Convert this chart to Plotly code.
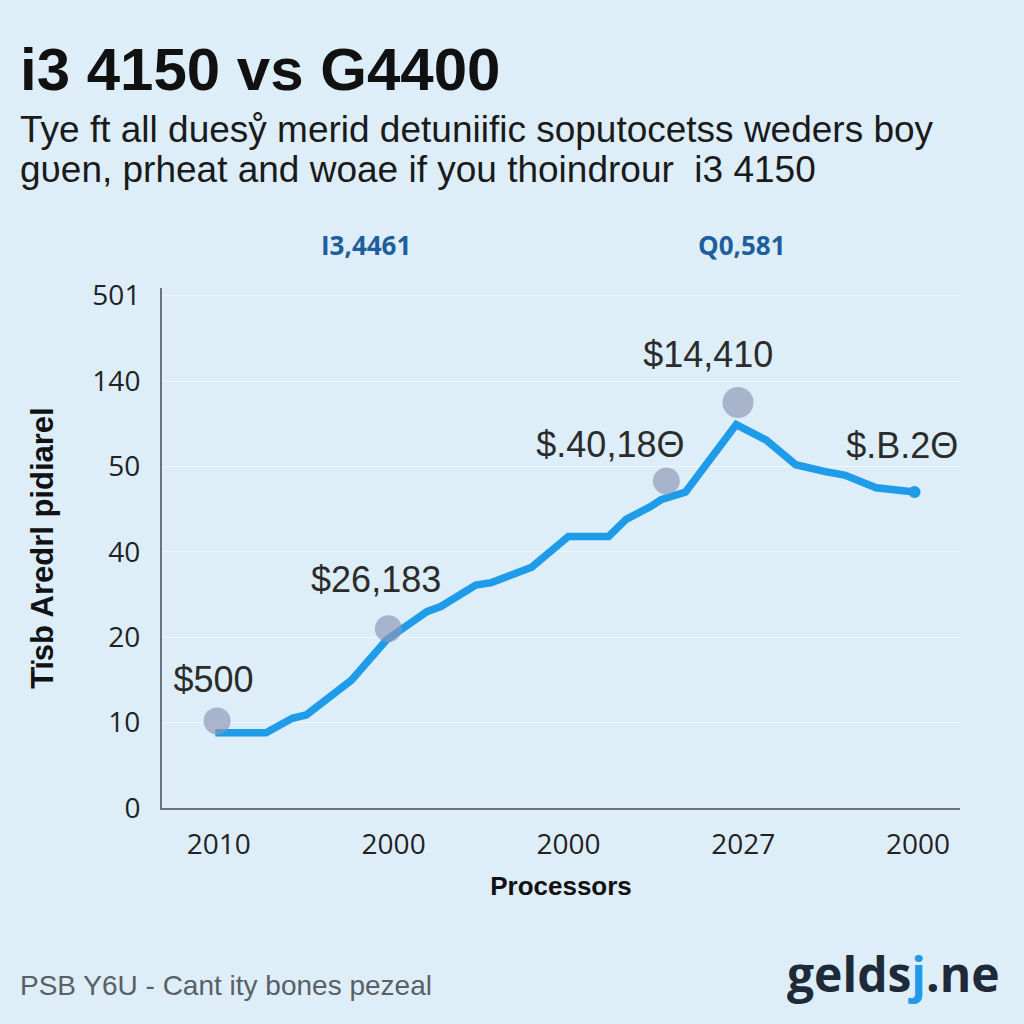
import plotly.graph_objects as go

# ---- data ----
x_tick_labels = ["2010", "2000", "2000", "2027", "2000"]
y_tick_labels = ["0", "10", "20", "40", "50", "140", "501"]

line_x = [-0.02, 0.27, 0.42, 0.50, 0.76, 0.96, 1.19, 1.27, 1.47, 1.56, 1.79, 2.00, 2.23, 2.33,
          2.47, 2.53, 2.67, 2.96, 3.13, 3.30, 3.47, 3.58, 3.76, 3.98]
line_y = [0.88, 0.88, 1.05, 1.09, 1.50, 1.97, 2.30, 2.36, 2.61, 2.64, 2.82, 3.18, 3.18, 3.38,
          3.53, 3.61, 3.70, 4.49, 4.31, 4.02, 3.94, 3.90, 3.75, 3.70]

marker_x = [-0.01, 0.97, 2.56, 2.97]
marker_y = [1.02, 2.10, 3.83, 4.75]

label_text = ["$500", "$26,183", "$.40,18Θ", "$14,410", "$.B.2Θ"]
label_x = [-0.03, 0.90, 2.24, 2.80, 3.91]
label_y = [1.46, 2.64, 4.22, 5.27, 4.20]

top_text = ["I3,4461", "Q0,581"]
top_x_px = [366, 742]

BG = "#ddeef9"
LINE = "#1e9be9"
NARROW = "Liberation Sans Narrow, Arial Narrow, sans-serif"
SANS = "Open Sans, sans-serif"

fig = go.Figure()

fig.add_trace(go.Scatter(
    x=line_x, y=line_y, mode="lines",
    line=dict(color=LINE, width=7.5, shape="linear"),
    hoverinfo="skip", showlegend=False,
))
fig.add_trace(go.Scatter(
    x=[line_x[-1]], y=[line_y[-1]], mode="markers",
    marker=dict(color=LINE, size=12),
    hoverinfo="skip", showlegend=False,
))
fig.add_trace(go.Scatter(
    x=marker_x, y=marker_y, mode="markers",
    marker=dict(color="rgba(140,152,180,0.95)", size=[27, 27, 27, 31], line=dict(width=0)),
    hoverinfo="skip", showlegend=False,
))
fig.add_trace(go.Scatter(
    x=label_x, y=label_y, mode="text", text=label_text,
    textfont=dict(family=NARROW, size=36, color="#2b2b2b"),
    cliponaxis=False, hoverinfo="skip", showlegend=False,
))

# pixel-positioned annotations (converted to paper coords below)
W, H = 1024, 1024
ml, mr, mt, mb = 162, 64, 288, 216
pw, ph = W - ml - mr, H - mt - mb

def px_ann(x, y, text, font, xanchor="left"):
    fig.add_annotation(x=(x - ml) / pw, y=1 - (y - mt) / ph, xref="paper", yref="paper",
                       text=text, showarrow=False, xanchor=xanchor, yanchor="middle", font=font)

for t, xp in zip(top_text, top_x_px):
    px_ann(xp, 245, f"<b>{t}</b>", dict(family=SANS, size=26, color="#1d5e9c"), xanchor="center")

px_ann(18, 70, "<b>i3 4150 vs G4400</b>", dict(family=NARROW, size=60, color="#111111"))
px_ann(18, 130, "Tye ft all duesẙ merid detuniific soputocetss weders boy",
       dict(family=NARROW, size=37, color="#1a1a1a"))
px_ann(18, 170, "gυen, prheat and woae if you thoindrour  i3 4150",
       dict(family=NARROW, size=37, color="#1a1a1a"))
px_ann(18, 985, "PSB Y6U - Cant ity bones pezeal", dict(family=NARROW, size=28, color="#5a5f66"))
px_ann(1002, 973, "<b>gelds<span style='color:#1e9be9'>j</span>.ne</b>",
       dict(family=SANS, size=48, color="#1e2a38"), xanchor="right")

fig.update_layout(
    width=W, height=H,
    margin=dict(l=ml, r=mr, t=mt, b=mb),
    paper_bgcolor=BG, plot_bgcolor=BG,
    showlegend=False,
    xaxis=dict(
        range=[-0.325, 4.24], tickvals=list(range(len(x_tick_labels))), ticktext=x_tick_labels,
        showgrid=False, zeroline=False, showline=True, linecolor="#6b7480", linewidth=2,
        ticks="", ticklabelstandoff=10, tickfont=dict(family=SANS, size=28, color="#222222"),
        title=dict(text="<b>Processors</b>", standoff=16,
                   font=dict(family=NARROW, size=26, color="#111111")),
    ),
    yaxis=dict(
        range=[0, 6.09], tickvals=list(range(len(y_tick_labels))), ticktext=y_tick_labels,
        showgrid=True, gridcolor="rgba(255,255,255,0.55)", gridwidth=1,
        zeroline=False, showline=True, linecolor="#6b7480", linewidth=2,
        ticks="", ticklabelstandoff=14, tickfont=dict(family=SANS, size=28, color="#222222"),
        title=dict(text="<b>Tïsb Aredrl pidiarel</b>", standoff=30,
                   font=dict(family=NARROW, size=31, color="#111111")),
    ),
)

fig.write_html("out.html", config={"displayModeBar": False},
               post_script="document.body.style.margin='0';document.body.style.background='#ddeef9';")
